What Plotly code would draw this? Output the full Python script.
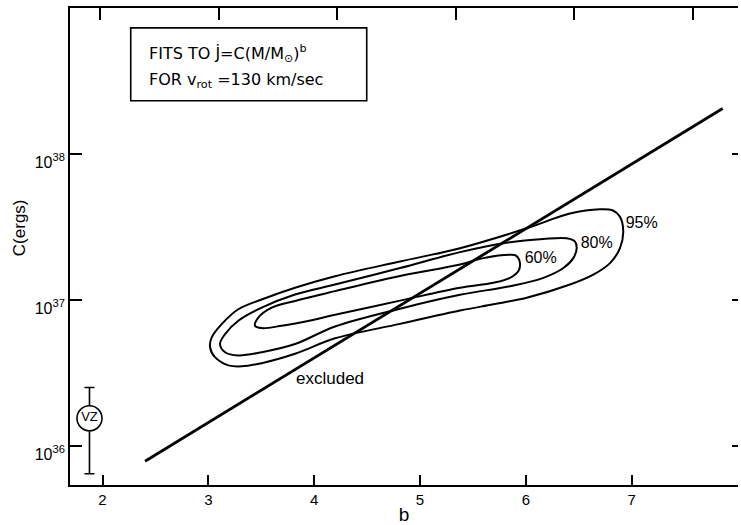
import numpy as np
import plotly.graph_objects as go

# ---- data (b, log10 C) ----
c95_b = [3.016, 3.032, 3.126, 3.283, 3.504, 3.819, 4.197, 4.811, 5.378, 6.008, 6.417, 6.700, 6.823,
         6.889, 6.920, 6.889, 6.795, 6.637, 6.417, 6.008, 5.692, 5.378, 4.811, 4.197, 3.819, 3.504,
         3.315, 3.189, 3.063, 3.016]
c95_logC = [36.678, 36.746, 36.836, 36.938, 37.005, 37.085, 37.164, 37.265, 37.356, 37.492, 37.593,
            37.622, 37.614, 37.571, 37.469, 37.356, 37.254, 37.175, 37.107, 37.017, 36.972, 36.929,
            36.838, 36.739, 36.633, 36.569, 36.547, 36.554, 36.610, 36.678]

c80_b = [3.110, 3.158, 3.283, 3.504, 3.819, 4.197, 4.811, 5.378, 5.787, 6.165, 6.386, 6.464, 6.480,
         6.448, 6.354, 6.165, 5.850, 5.378, 4.811, 4.197, 3.819, 3.504, 3.283, 3.158, 3.110]
c80_logC = [36.700, 36.768, 36.859, 36.949, 37.039, 37.107, 37.220, 37.329, 37.390, 37.419, 37.424,
            37.401, 37.356, 37.288, 37.220, 37.153, 37.096, 37.037, 36.942, 36.820, 36.700, 36.644,
            36.622, 36.644, 36.700]

c60_b = [3.441, 3.472, 3.599, 3.819, 4.197, 4.811, 5.378, 5.598, 5.850, 5.907, 5.944, 5.928, 5.850,
         5.692, 5.378, 4.811, 4.197, 3.977, 3.693, 3.504, 3.441]
c60_logC = [36.825, 36.881, 36.949, 36.995, 37.062, 37.166, 37.244, 37.288, 37.311, 37.305, 37.254,
            37.198, 37.153, 37.119, 37.085, 36.997, 36.900, 36.863, 36.825, 36.809, 36.825]

excl_b = [2.402, 7.859]
excl_logC = [35.898, 38.312]

vz_b = [1.877]
vz_logC = [36.192]
vz_err_plus = [0.210]
vz_err_minus = [0.380]

contour_labels = ["95%", "80%", "60%"]
label_b = [7.094, 6.669, 6.140]
label_logC = [37.519, 37.383, 37.281]

x_ticks = [2, 3, 4, 5, 6, 7]
y_ticks_log = [36, 37, 38]
y_ticktext = ["10<sup>36</sup>", "10<sup>37</sup>", "10<sup>38</sup>"]
top_ticks = [1, 2, 3, 4, 5, 6]

FONT = "Liberation Sans, Arial, sans-serif"
BOXFONT = "DejaVu Sans, Liberation Sans, sans-serif"
lc = "black"

def p(v):
    return (10 ** np.array(v, dtype=float)).tolist()

fig = go.Figure()

for bb, cc in [(c95_b, c95_logC), (c80_b, c80_logC), (c60_b, c60_logC)]:
    fig.add_trace(go.Scatter(x=bb, y=p(cc), mode="lines",
                             line=dict(color=lc, width=2, shape="spline", smoothing=1.0),
                             showlegend=False, hoverinfo="skip"))

fig.add_trace(go.Scatter(x=excl_b, y=p(excl_logC), mode="lines",
                         line=dict(color=lc, width=2.8), showlegend=False))

fig.add_trace(go.Scatter(
    x=vz_b, y=p(vz_logC), mode="markers+text", text=["VZ"], textposition="middle center",
    textfont=dict(family=FONT, size=13, color=lc),
    marker=dict(symbol="circle", size=25, color="white", line=dict(color=lc, width=1.6)),
    error_y=dict(type="data", symmetric=False,
                 array=(10 ** (np.array(vz_logC) + np.array(vz_err_plus)) - 10 ** np.array(vz_logC)).tolist(),
                 arrayminus=(10 ** np.array(vz_logC) - 10 ** (np.array(vz_logC) - np.array(vz_err_minus))).tolist(),
                 color=lc, thickness=1.6, width=5),
    showlegend=False))

fig.add_trace(go.Scatter(x=label_b, y=p(label_logC), mode="text", text=contour_labels,
                         textposition="middle center",
                         textfont=dict(family=FONT, size=16, color=lc), showlegend=False))

fig.add_annotation(x=4.150, y=36.461, xref="x", yref="y", text="excluded", showarrow=False,
                   font=dict(family=FONT, size=17, color=lc))

# text box
fig.add_shape(type="rect", xref="paper", yref="paper", x0=0.0909, x1=0.4442, y0=0.8056, y1=0.9584,
              line=dict(color=lc, width=1.6), fillcolor="white", layer="below")
fig.add_annotation(x=0.1149, y=0.9044, xref="paper", yref="paper", xanchor="left", yanchor="middle",
                   text="FITS TO J\u0307=C(M/M<sub>\u2299</sub>)<sup>b</sup>", showarrow=False,
                   font=dict(family=BOXFONT, size=16, color=lc))
fig.add_annotation(x=0.1149, y=0.8482, xref="paper", yref="paper", xanchor="left", yanchor="middle",
                   text="FOR v<sub>rot</sub> =130 km/sec", showarrow=False,
                   font=dict(family=BOXFONT, size=16, color=lc))

# y-axis title
fig.add_annotation(x=-0.0763, y=0.5385, xref="paper", yref="paper", text="C(ergs)", textangle=-90,
                   xanchor="center", yanchor="middle",
                   showarrow=False, font=dict(family=FONT, size=17, color=lc))

fig.update_layout(
    width=741, height=525,
    margin=dict(l=70, r=3, t=8, b=36),
    paper_bgcolor="white", plot_bgcolor="white",
    font=dict(family=FONT, color=lc),
    xaxis=dict(range=[1.693, 8.004], tickvals=x_ticks, ticks="inside", ticklen=10, tickwidth=1.6,
               tickcolor=lc, showline=True, linecolor=lc, linewidth=1.8, showgrid=False,
               zeroline=False, tickfont=dict(size=15),
               title=dict(text="b", font=dict(size=19), standoff=1)),
    xaxis2=dict(overlaying="x", side="top", range=[0.747, 6.38], tickvals=top_ticks,
                ticks="inside", ticklen=12, tickwidth=1.6, tickcolor=lc, showticklabels=False,
                showline=True, linecolor=lc, linewidth=1.8, showgrid=False, zeroline=False),
    yaxis=dict(type="log", range=[35.735, 39.0], tickvals=p(y_ticks_log), ticktext=y_ticktext,
               ticks="inside", ticklen=12, tickwidth=1.6, tickcolor=lc, showline=True,
               linecolor=lc, linewidth=1.8, showgrid=False, zeroline=False,
               tickfont=dict(size=16), ticklabelshift=8),
    yaxis2=dict(type="log", overlaying="y", side="right", range=[35.735, 39.0],
                tickvals=p(y_ticks_log), ticks="inside", ticklen=6, tickwidth=1.6, tickcolor=lc,
                showticklabels=False, showline=False, showgrid=False, zeroline=False),
)
# dummy trace to activate secondary axes
fig.add_trace(go.Scatter(x=[None], y=[None], xaxis="x2", yaxis="y2", showlegend=False))

fig.write_html("out.html")
